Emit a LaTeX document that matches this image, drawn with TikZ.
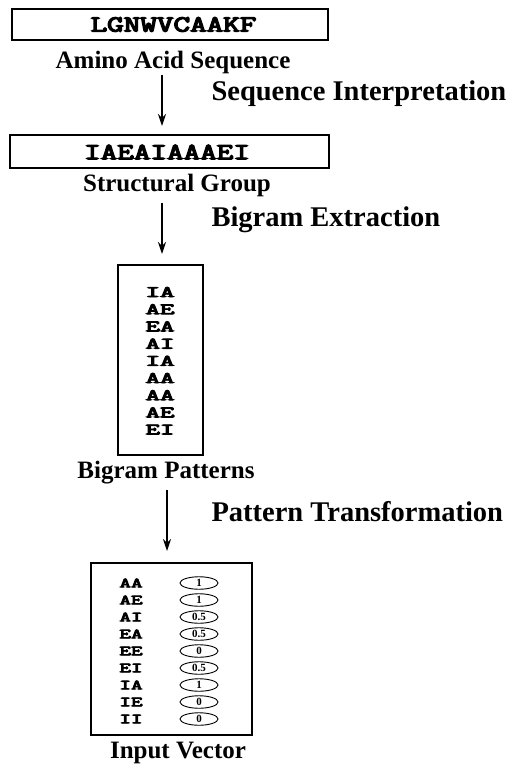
\documentclass[tikz,border=0pt]{standalone}
\usepackage{fontspec}
\setmainfont{Liberation Serif}
\newfontfamily\codefont[AutoFakeBold=5]{Latin Modern Mono}
\usetikzlibrary{arrows.meta,shapes.geometric}
\newcommand{\codetext}[2][1.4]{\scalebox{#1}[1]{\codefont\bfseries #2}}
\tikzstyle{seqbox}=[draw, line width=1.1pt, inner sep=0pt]
\tikzstyle{seqtext}=[font=\fontsize{23}{24}\selectfont, inner sep=0pt]
\tikzstyle{rowtext}=[font=\fontsize{16}{16}\selectfont, inner sep=0pt]
\tikzstyle{keytext}=[font=\fontsize{14}{14}\selectfont, inner sep=0pt]
\tikzstyle{caption}=[font=\bfseries\fontsize{25}{28}\selectfont]
\tikzstyle{steplabel}=[font=\bfseries\fontsize{28.5}{32}\selectfont, anchor=west]
\tikzstyle{flow}=[-{Stealth[length=12pt,width=8pt]}, line width=1.5pt]
\tikzstyle{valoval}=[draw, ellipse, line width=0.9pt, minimum width=38pt,
    minimum height=12.5pt, inner sep=0pt, font=\bfseries\fontsize{11}{11}\selectfont]

\begin{document}
\begin{tikzpicture}[x=1pt, y=-1pt]
    \useasboundingbox (0,0) rectangle (510,765);
    \node[seqbox, minimum width=316pt, minimum height=31pt] (aminobox) at (170,24.5) {};
    \node[seqtext] (aminoseq) at (173.5,24.5) {\codetext{LGNWVCAAKF}};
    \node[caption] (aminolbl) at (173,62) {Amino Acid Sequence};
    \coordinate (a1s) at (162,75);
    \coordinate (a1e) at (162,126);
    \draw[flow] (a1s) -- (a1e);
    \node[steplabel] (interp) at (208,94) {Sequence Interpretation};

    \node[seqbox, minimum width=319pt, minimum height=33pt] (groupbox) at (169.5,151.5) {};
    \node[seqtext] (groupseq) at (167,152) {\codetext{IAEAIAAAEI}};
    \node[caption] (grouplbl) at (177,185) {Structural Group};
    \coordinate (a2s) at (162,203);
    \coordinate (a2e) at (162,254);
    \draw[flow] (a2s) -- (a2e);
    \node[steplabel] (extract) at (208,220) {Bigram Extraction};

    \node[seqbox, minimum width=85pt, minimum height=190pt] (bigrambox) at (160.5,360) {};
    \foreach \bg [count=\i] in {IA,AE,EA,AI,IA,AA,AA,AE,EI}
        \node[rowtext] (bg\i) at (160,{292+17.2*(\i-1)}) {\codetext[1.75]{\bg}};
    \node[caption] (bigramlbl) at (166,473) {Bigram Patterns};
    \coordinate (a3s) at (167,490);
    \coordinate (a3e) at (167,551);
    \draw[flow] (a3s) -- (a3e);
    \node[steplabel] (transf) at (208,512) {Pattern Transformation};

    \node[seqbox, minimum width=161pt, minimum height=172pt] (vectorbox) at (171.5,649) {};
    \foreach \bg/\val [count=\i] in {AA/1,AE/1,AI/0.5,EA/0.5,EE/0,EI/0.5,IA/1,IE/0,II/0} {
        \node[keytext] (vk\i) at (131,{583+17*(\i-1)}) {\codetext[1.6]{\bg}};
        \node[valoval] (vv\i) at (199,{583+17*(\i-1)}) {\val};
    }
    \node[caption] (vectorlbl) at (178,753) {Input Vector};
\end{tikzpicture}
\end{document}
